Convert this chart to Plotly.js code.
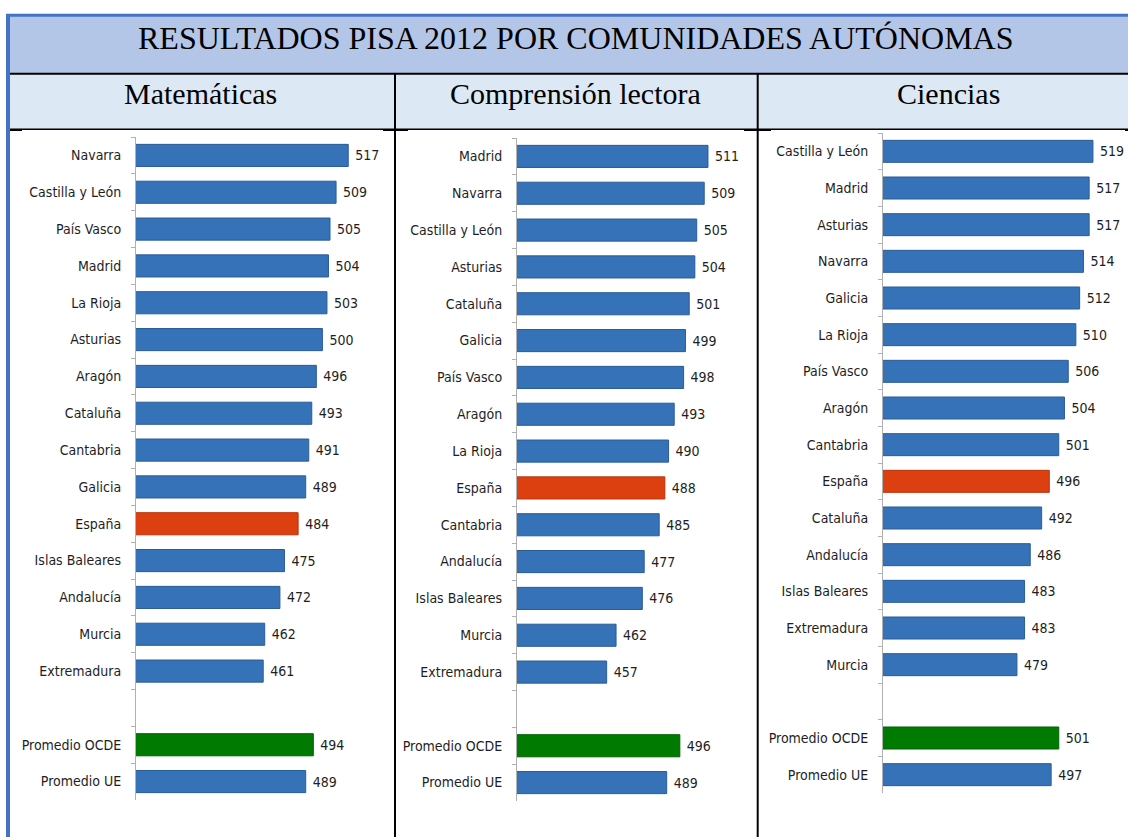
<!DOCTYPE html>
<html>
<head>
<meta charset="utf-8">
<script src="https://cdn.plot.ly/plotly-3.0.1.min.js"></script>
<style>
html,body{margin:0;padding:0;background:#fff;}
#chart{width:1128px;height:837px;}
</style>
</head>
<body>
<div id="chart"></div>
<script>
// ---- Data ----
const chartTitle = "RESULTADOS PISA 2012 POR COMUNIDADES AUTÓNOMAS";
const panelTitles = ["Matemáticas", "Comprensión lectora", "Ciencias"];

const mathLabels = ["Navarra","Castilla y León","País Vasco","Madrid","La Rioja","Asturias","Aragón","Cataluña","Cantabria","Galicia","España","Islas Baleares","Andalucía","Murcia","Extremadura"," ","Promedio OCDE","Promedio UE"];
const mathValues = [517,509,505,504,503,500,496,493,491,489,484,475,472,462,461,null,494,489];

const readLabels = ["Madrid","Navarra","Castilla y León","Asturias","Cataluña","Galicia","País Vasco","Aragón","La Rioja","España","Cantabria","Andalucía","Islas Baleares","Murcia","Extremadura"," ","Promedio OCDE","Promedio UE"];
const readValues = [511,509,505,504,501,499,498,493,490,488,485,477,476,462,457,null,496,489];

const sciLabels = ["Castilla y León","Madrid","Asturias","Navarra","Galicia","La Rioja","País Vasco","Aragón","Cantabria","España","Cataluña","Andalucía","Islas Baleares","Extremadura","Murcia"," ","Promedio OCDE","Promedio UE"];
const sciValues = [519,517,517,514,512,510,506,504,501,496,492,486,483,483,479,null,501,497];

// ---- Layout helpers ----
const W = 1128, H = 837;
const px = x => x / W;
const py = y => 1 - y / H;

const BLUE = "#3672b8", BLUE_LINE = "#2b5c96";
const RED = "#dd4010", RED_LINE = "#b83208";
const GREEN = "#007a00", GREEN_LINE = "#006000";
const LABEL_FONT = {family: "Liberation Sans Narrow, DejaVu Sans Condensed, Arial Narrow, sans-serif", size: 14, color: "#1e1e1e"};

function colorsFor(labels) {
  return labels.map(l => l === "España" ? RED : (l === "Promedio OCDE" ? GREEN : BLUE));
}
function lineColorsFor(labels) {
  return labels.map(l => l === "España" ? RED_LINE : (l === "Promedio OCDE" ? GREEN_LINE : BLUE_LINE));
}

function makeTrace(labels, values, n) {
  const s = n === 1 ? "" : String(n);
  return {
    type: "bar",
    orientation: "h",
    x: values,
    y: labels,
    xaxis: "x" + s,
    yaxis: "y" + s,
    marker: {color: colorsFor(labels), line: {color: lineColorsFor(labels), width: 1}},
    texttemplate: "\u00a0%{x}",
    textposition: "outside",
    textfont: LABEL_FONT,
    constraintext: "none",
    cliponaxis: false,
    hoverinfo: "skip",
    showlegend: false
  };
}

const data = [
  makeTrace(mathLabels, mathValues, 1),
  makeTrace(readLabels, readValues, 2),
  makeTrace(sciLabels, sciValues, 3)
];

function yAxis(labels, top, bottom, anchor) {
  return {
    anchor: anchor,
    domain: [py(bottom), py(top)],
    type: "category",
    categoryorder: "array",
    categoryarray: labels,
    range: [labels.length - 0.5, -0.5],
    showline: true,
    linecolor: "#b0b0b0",
    linewidth: 1,
    ticks: "outside",
    tickson: "boundaries",
    ticklen: 4,
    tickcolor: "#b0b0b0",
    tickwidth: 1,
    ticklabelstandoff: 11,
    showgrid: false,
    zeroline: false,
    tickfont: LABEL_FONT,
    fixedrange: true
  };
}
function xAxis(left, right, startVal, pxPerUnit, anchor) {
  return {
    anchor: anchor,
    domain: [px(left), px(right)],
    range: [startVal, startVal + (right - left) / pxPerUnit],
    visible: false,
    fixedrange: true
  };
}

const black = "#000000";
const shapes = [
  // title band
  {type: "rect", xref: "paper", yref: "paper", x0: px(10), x1: px(1128), y0: py(73), y1: py(16), fillcolor: "#b4c6e7", line: {width: 0}, layer: "below"},
  // header band
  {type: "rect", xref: "paper", yref: "paper", x0: px(10), x1: px(1128), y0: py(129), y1: py(74), fillcolor: "#dde8f5", line: {width: 0}, layer: "below"},
  // top blue line
  {type: "line", xref: "paper", yref: "paper", x0: px(6), x1: px(1128), y0: py(15.3), y1: py(15.3), line: {color: "#4472c4", width: 3}},
  // left blue line
  {type: "line", xref: "paper", yref: "paper", x0: px(8), x1: px(8), y0: py(14), y1: py(837), line: {color: "#4472c4", width: 4}},
  // black horizontal lines
  {type: "line", xref: "paper", yref: "paper", x0: px(10), x1: px(1128), y0: py(73.7), y1: py(73.7), line: {color: black, width: 2}},
  {type: "line", xref: "paper", yref: "paper", x0: px(10), x1: px(1128), y0: py(129.2), y1: py(129.2), line: {color: black, width: 1.5}},
  // small thicker segments at the header bottom line
  {type: "line", xref: "paper", yref: "paper", x0: px(10), x1: px(22), y0: py(130), y1: py(130), line: {color: black, width: 2}},
  {type: "line", xref: "paper", yref: "paper", x0: px(383), x1: px(408), y0: py(130), y1: py(130), line: {color: black, width: 2}},
  {type: "line", xref: "paper", yref: "paper", x0: px(744), x1: px(771), y0: py(130), y1: py(130), line: {color: black, width: 2}},
  {type: "line", xref: "paper", yref: "paper", x0: px(1125), x1: px(1128), y0: py(130), y1: py(130), line: {color: black, width: 2}},
  // vertical separators
  {type: "line", xref: "paper", yref: "paper", x0: px(395), x1: px(395), y0: py(73), y1: py(837), line: {color: black, width: 2}},
  {type: "line", xref: "paper", yref: "paper", x0: px(757.7), x1: px(757.7), y0: py(73), y1: py(837), line: {color: black, width: 2}}
];

const SERIF = "Liberation Serif, Times New Roman, serif";
const annotations = [
  {xref: "paper", yref: "paper", x: px(575.5), y: py(38), text: chartTitle, showarrow: false, xanchor: "center", yanchor: "middle", font: {family: SERIF, size: 32, color: "#000"}},
  {xref: "paper", yref: "paper", x: px(200.5), y: py(94), text: panelTitles[0], showarrow: false, xanchor: "center", yanchor: "middle", font: {family: SERIF, size: 30, color: "#000"}},
  {xref: "paper", yref: "paper", x: px(575.3), y: py(94), text: panelTitles[1], showarrow: false, xanchor: "center", yanchor: "middle", font: {family: SERIF, size: 30, color: "#000"}},
  {xref: "paper", yref: "paper", x: px(948), y: py(94), text: panelTitles[2], showarrow: false, xanchor: "center", yanchor: "middle", font: {family: SERIF, size: 30, color: "#000"}}
];

const layout = {
  width: W, height: H,
  margin: {l: 0, r: 0, t: 0, b: 0},
  paper_bgcolor: "#ffffff",
  plot_bgcolor: "rgba(0,0,0,0)",
  bargap: 0.4,
  showlegend: false,
  xaxis: xAxis(136, 390, 377.2, 1.518, "y"),
  yaxis: yAxis(mathLabels, 137, 800, "x"),
  xaxis2: xAxis(517, 745, 409.2, 1.876, "y2"),
  yaxis2: yAxis(readLabels, 138, 801, "x2"),
  xaxis3: xAxis(883, 1120, 408.5, 1.9, "y3"),
  yaxis3: yAxis(sciLabels, 133, 793, "x3"),
  shapes: shapes,
  annotations: annotations
};

Plotly.newPlot("chart", data, layout, {staticPlot: true, displayModeBar: false});
</script>
</body>
</html>
